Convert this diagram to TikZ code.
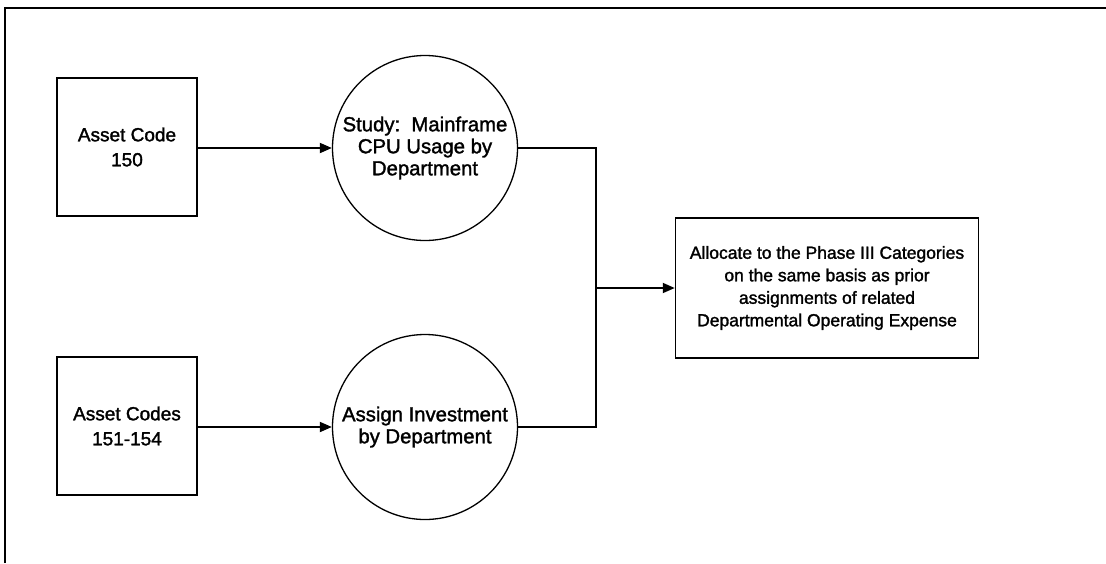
\documentclass[tikz,border=0pt]{standalone}
\usepackage{fontspec}
\setmainfont{Liberation Sans}[FakeBold=1.6]
\usetikzlibrary{arrows.meta}
\begin{document}
\begin{tikzpicture}[x=1pt,y=-1pt,
  srcbox/.style={draw,line width=1.5pt,minimum width=140pt,minimum height=138pt,inner sep=0pt,align=center,font=\fontsize{19}{25}\selectfont},
  proc/.style={draw,circle,line width=1.3pt,minimum size=185pt,inner sep=0pt,align=center,font=\fontsize{20.3}{22}\selectfont},
  dest/.style={draw,line width=1.5pt,minimum width=303pt,minimum height=140pt,inner sep=0pt,align=center,font=\fontsize{17.5}{22.5}\selectfont},
  flow/.style={line width=1.8pt,-{Triangle[length=12pt,width=10pt]}},
  link/.style={line width=1.8pt}]
\useasboundingbox (0,0) rectangle (1106,563);
\draw[line width=2.5pt] (5,563) -- (5,8) -- (1106,8);
\node[srcbox] (b1) at (127,147) {Asset Code\\150};
\node[srcbox] (b2) at (127,426) {Asset Codes\\151-154};
\node[proc] (c1) at (425,148) {Study:\ \ Mainframe\\CPU Usage by\\Department};
\node[proc] (c2) at (425,427) {Assign Investment\\by Department};
\node[dest] (b3) at (827,288) {Allocate to the Phase III Categories\\on the same basis as prior\\assignments of related\\Departmental Operating Expense};
\coordinate (j) at (596,288);
\draw[flow] (b1.east |- c1.west) -- (c1.west);
\draw[flow] (b2.east |- c2.west) -- (c2.west);
\draw[link] (c1.east) -| (j);
\draw[link] (c2.east) -| (j);
\draw[flow] (j) -- (b3.west);
\end{tikzpicture}
\end{document}
